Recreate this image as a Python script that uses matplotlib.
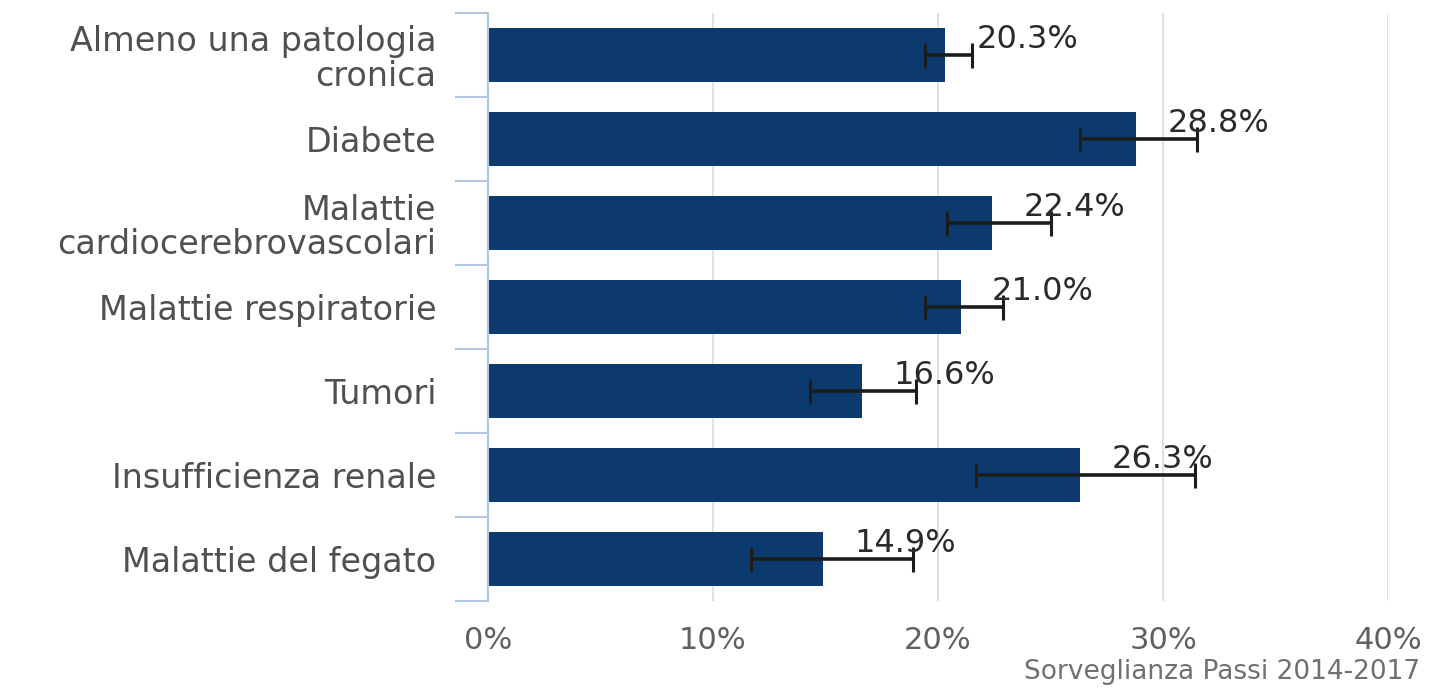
import numpy as np
import matplotlib
matplotlib.use("Agg")
import matplotlib.pyplot as plt
from matplotlib.ticker import FixedLocator, MultipleLocator, FuncFormatter

categories = ["Almeno una patologia\ncronica", "Diabete", "Malattie\ncardiocerebrovascolari",
              "Malattie respiratorie", "Tumori", "Insufficienza renale", "Malattie del fegato"]
values = [20.3, 28.8, 22.4, 21.0, 16.6, 26.3, 14.9]
ci_low = [19.4, 26.3, 20.4, 19.4, 14.3, 21.7, 11.7]
ci_high = [21.5, 31.5, 25.0, 22.9, 19.0, 31.4, 18.9]
source = "Sorveglianza Passi 2014-2017"

bar_color = "#0d3a6e"
spine_color = "#b3c6e2"

plt.rcParams["font.family"] = ["DejaVu Sans"]

fig = plt.figure(figsize=(14.37, 6.91), dpi=100)
ax = fig.add_axes([488 / 1437, 1 - 601 / 691, (1388 - 488) / 1437, (601 - 13) / 691])

y = np.arange(len(categories))
vals = np.array(values)
err = np.array([vals - np.array(ci_low), np.array(ci_high) - vals])

ax.barh(y, vals, height=0.64, color=bar_color, zorder=2)
ax.errorbar(vals, y, xerr=err, fmt="none", ecolor="#1c1c1c", elinewidth=2.6,
            capsize=9, capthick=2.2, zorder=3)

for yi, v in zip(y, values):
    ax.text(v + 1.4, yi - 0.19, f"{v:.1f}%", ha="left", va="center",
            fontsize=23, color="#2a2a2a", zorder=4)

ax.set_xlim(0, 40)
ax.set_ylim(len(categories) - 0.5, -0.5)
ax.xaxis.set_major_locator(MultipleLocator(10))
ax.xaxis.set_major_formatter(FuncFormatter(lambda x, p: f"{x:.0f}%"))
ax.grid(axis="x", color="#dcdcdc", lw=1.2, zorder=0)

ax.set_yticks(y)
ax.set_yticklabels(categories, fontsize=24, color="#505050", linespacing=1.05)
for lab in ax.get_yticklabels():
    lab.set_y(lab.get_position()[1])
ax.yaxis.set_minor_locator(FixedLocator(np.arange(-0.5, len(categories), 1.0)))
ax.tick_params(axis="y", which="major", length=0, pad=37)
ax.tick_params(axis="y", which="minor", length=24, width=1.5, color=spine_color)
ax.tick_params(axis="x", which="major", length=0, pad=18, labelsize=22, labelcolor="#606060")

for s in ["top", "right", "bottom"]:
    ax.spines[s].set_visible(False)
ax.spines["left"].set_color(spine_color)
ax.spines["left"].set_linewidth(1.5)

fig.text(1420 / 1437, 0.008, source, ha="right", va="bottom", fontsize=19, color="#707070")

fig.savefig("out.png", dpi=100)
